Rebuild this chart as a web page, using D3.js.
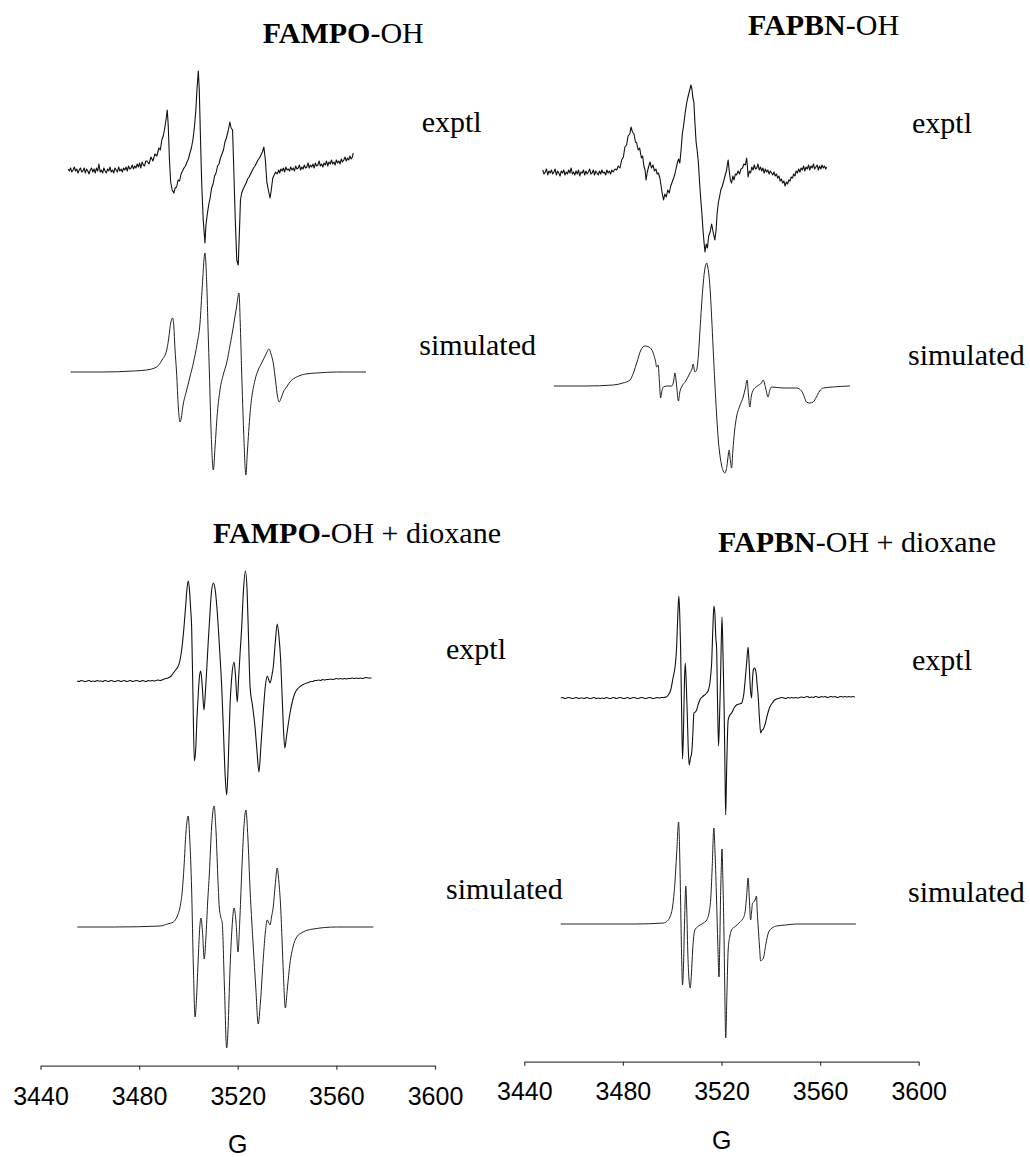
<!DOCTYPE html>
<html>
<head>
<meta charset="utf-8">
<script src="https://cdn.jsdelivr.net/npm/d3@7"></script>
<style>
  html, body { margin: 0; padding: 0; background: #fff; }
  svg { display: block; }
</style>
</head>
<body>
<svg id="chart" width="1030" height="1157"></svg>
<script>
// EPR spectra of the hydroxyl spin adducts: field in gauss, intensity in arbitrary units

const fieldTicks = [3440, 3480, 3520, 3560, 3600];

// FAMPO-OH, experimental
const fampoExptl = [
  [3451.2,1],[3451.7,-1],[3452.2,2],[3452.7,-2],[3453.2,0],[3453.7,3],[3454.2,-1],[3454.7,1],[3455.2,-3],[3455.7,0],
  [3456.2,2],[3456.7,-2],[3457.2,-1],[3457.7,2],[3458.2,-3],[3458.7,1],[3459.2,-1],[3459.7,-4],[3460.2,0],[3460.7,2],
  [3461.2,-2],[3461.7,1],[3462.2,-3],[3462.7,2],[3463.2,-1],[3463.7,6],[3464.2,-2],[3464.7,0],[3465.2,-3],[3465.7,2],
  [3466.2,-1],[3466.7,-3],[3467.2,1],[3467.7,-1],[3468.2,3],[3468.7,-2],[3469.2,0],[3469.7,-3],[3470.2,2],[3470.7,0],
  [3471.2,-2],[3471.7,3],[3472.2,-1],[3472.7,1],[3473.2,-2],[3473.7,2],[3474.2,0],[3474.7,3],[3475.2,-1],[3475.7,4],
  [3476.2,1],[3476.7,2],[3477.2,5],[3477.7,1],[3478.2,4],[3478.7,2],[3479.2,6],[3479.7,3],[3480.2,7],[3480.7,2],
  [3481.2,8],[3481.7,5],[3482.2,4],[3482.7,9],
  [3483.2,9],[3484.0,6],[3484.8,13],[3485.6,9],[3486.4,16],[3487.2,14],[3488.0,22],[3488.6,20],[3489.2,30],[3489.8,34],
  [3490.4,42],[3491.0,52],[3491.4,60],[3491.8,45],[3492.3,10],[3492.8,-12],[3493.4,-20],[3494.1,-23],[3494.6,-18],[3495.2,-17],
  [3495.8,-10],[3496.4,-11],[3497.0,-4],[3497.6,-1],[3498.2,2],[3498.8,4],[3499.4,8],[3500.0,11],[3500.6,17],[3501.2,22],
  [3501.8,30],[3502.4,42],[3503.0,60],[3503.5,82],[3504.0,99],[3504.4,80],[3504.9,30],[3505.4,-15],[3506.0,-50],[3506.7,-73],
  [3507.1,-55],[3507.6,-45],[3508.2,-35],[3508.8,-28],[3509.4,-18],[3510.0,-14],[3510.6,-6],[3511.2,-3],[3511.8,4],[3512.4,6],
  [3513.0,12],[3513.6,16],[3514.2,20],[3514.8,28],[3515.4,32],[3516.0,38],[3516.5,44],[3516.8,48],[3517.3,42],[3517.9,40],
  [3518.4,0],[3519.0,-50],[3519.6,-90],[3520.2,-95],[3520.7,-60],[3521.1,-30],[3521.6,-23],[3522.2,-19],[3522.8,-16],[3523.4,-13],
  [3524.0,-9],[3524.6,-7],[3525.2,-4],[3525.8,-1],[3526.4,2],[3527.0,4],[3527.6,7],[3528.2,10],[3528.8,12],[3529.4,15],
  [3530.0,18],[3530.6,23],[3531.2,10],[3531.8,-12],[3532.4,-20],[3533.1,-28],[3533.6,-20],[3534.2,-8],[3534.8,-5],[3535.4,-2],
  [3536.0,-4],[3536.6,0],
  [3537.0,-3],[3537.5,1],[3538.0,-1],[3538.5,2],[3539.0,-2],[3539.5,3],[3540.0,0],[3540.5,1],[3541.0,-1],[3541.5,3],
  [3542.0,0],[3542.5,2],[3543.0,-1],[3543.5,4],[3544.0,1],[3544.5,2],[3545.0,5],[3545.5,0],[3546.0,3],[3546.5,1],
  [3547.0,5],[3547.5,2],[3548.0,3],[3548.5,7],[3549.0,2],[3549.5,5],[3550.0,3],[3550.5,6],[3551.0,2],[3551.5,7],
  [3552.0,4],[3552.5,5],[3553.0,9],[3553.5,4],[3554.0,6],[3554.5,3],[3555.0,7],[3555.5,5],[3556.0,9],[3556.5,4],
  [3557.0,8],[3557.5,6],[3558.0,10],[3558.5,6],[3559.0,8],[3559.5,5],[3560.0,10],[3560.5,7],[3561.0,9],[3561.5,6],
  [3562.0,11],[3562.5,8],[3563.0,10],[3563.5,13],[3564.0,9],[3564.5,12],[3565.0,10],[3565.5,14],[3566.0,11],[3566.5,13],
  [3566.8,17]
];

// FAMPO-OH, simulated
const fampoSim = [
  [3452.2,0],[3465.0,0],[3477.6,1],[3483.0,2],[3487.1,5],[3489.3,12],[3491.2,22],[3491.9,32],[3492.8,49],[3493.6,54],
  [3494.1,45],[3494.5,25],[3495.2,-1],[3495.9,-35],[3496.6,-50],[3497.1,-46],[3497.7,-35],[3499.3,-18],[3500.6,-5],[3502.0,9],
  [3503.5,28],[3504.7,49],[3505.6,85],[3506.7,119],[3507.4,90],[3508.0,40],[3508.5,-1],[3509.2,-60],[3510.1,-98],[3510.8,-75],
  [3511.6,-45],[3512.8,-18],[3514.2,-2],[3515.5,9],[3516.9,27],[3518.2,45],[3519.5,65],[3520.5,79],[3521.0,50],[3521.6,-1],
  [3522.4,-60],[3523.3,-103],[3523.9,-80],[3525.0,-41],[3527.0,-8],[3528.3,2],[3529.7,9],[3531.3,17],[3532.7,23],[3533.5,18],
  [3534.4,9],[3535.4,-10],[3536.1,-24],[3536.8,-30],[3537.6,-26],[3538.5,-20],[3539.8,-15],[3541.5,-9],[3543.9,-5],[3547.5,-2],
  [3552.0,-1],[3560.0,0],[3572.0,0]
];

// FAPBN-OH, experimental
const fapbnExptl = [
  [3447.5,2],[3448.0,-2],[3448.5,0],[3449.0,3],[3449.5,-3],[3450.0,1],[3450.5,-1],[3451.0,2],[3451.5,-2],[3452.0,0],
  [3452.5,3],[3453.0,-3],[3453.5,1],[3454.0,-1],[3454.5,-4],[3455.0,1],[3455.5,-1],[3456.0,2],[3456.5,-3],[3457.0,0],
  [3457.5,-2],[3458.0,2],[3458.5,-1],[3459.0,4],[3459.5,-2],[3460.0,0],[3460.5,-3],[3461.0,1],[3461.5,-2],[3462.0,2],
  [3462.5,-4],[3463.0,0],[3463.5,-1],[3464.0,2],[3464.5,-3],[3465.0,1],[3465.5,-2],[3466.0,0],[3466.5,3],[3467.0,-2],
  [3467.5,-1],[3468.0,2],[3468.5,-3],[3469.0,1],[3469.5,-1],[3470.0,-3],[3470.5,1],[3471.0,-2],[3471.5,2],[3472.0,-1],
  [3472.5,0],[3473.0,-3],[3473.5,2],[3474.0,-1],[3474.5,1],[3475.0,-2],[3475.5,2],[3476.0,0],
  [3476.8,3],[3477.5,2],[3478.1,6],[3478.8,4],[3479.5,12],[3480.2,15],[3480.8,25],[3481.5,27],[3482.1,36],[3482.8,38],
  [3483.3,45],[3483.9,40],[3484.5,38],[3485.1,30],[3485.6,29],[3486.2,22],[3486.8,24],[3487.5,14],[3488.0,16],[3488.5,6],
  [3489.0,2],[3489.4,-8],[3489.9,0],[3490.4,5],[3491.0,10],[3491.6,4],[3492.2,7],[3492.8,1],[3493.4,3],[3493.9,-2],
  [3494.4,-1],[3495.0,-6],[3495.5,-14],[3496.0,-22],[3496.5,-28],[3497.0,-22],[3497.6,-25],[3498.2,-18],[3498.8,-21],[3499.4,-14],
  [3500.0,-10],[3500.6,-6],[3501.1,-2],[3501.7,5],[3502.2,10],[3502.6,13],[3503.1,9],[3503.6,22],[3504.1,38],[3504.6,46],
  [3505.2,58],[3505.8,68],[3506.3,74],[3506.9,80],[3507.3,84],[3507.6,87],[3508.0,83],[3508.4,74],[3508.8,70],[3509.2,50],
  [3509.7,30],[3510.2,20],[3510.6,10],[3511.1,-10],[3511.6,-28],[3512.0,-40],[3512.5,-58],[3512.9,-70],[3513.3,-80],[3513.8,-72],
  [3514.3,-76],[3514.8,-64],[3515.4,-60],[3516.0,-52],[3516.6,-60],[3517.3,-68],[3517.8,-58],[3518.2,-42],[3518.7,-31],[3519.2,-25],
  [3519.7,-18],[3520.2,-15],[3520.8,-10],[3521.4,-4],[3522.1,2],[3522.4,8],[3522.7,12],[3523.1,2],[3523.6,-8],[3524.1,-11],
  [3524.6,-4],[3525.1,-8],[3525.6,-2],[3526.1,-3],[3526.7,1],[3527.3,-2],[3527.9,3],[3528.5,4],[3529.1,8],[3529.7,7],
  [3530.2,14],[3530.5,6],[3530.8,-5],
  [3531.3,1],[3531.8,-1],[3532.3,5],[3532.8,2],[3533.3,7],[3533.8,3],[3534.3,4],[3534.8,8],[3535.3,2],[3535.8,5],
  [3536.3,1],[3536.8,4],[3537.3,-1],[3537.8,3],[3538.3,0],[3538.8,2],[3539.3,-2],[3539.8,1],[3540.3,-1],[3540.8,-3],
  [3541.3,0],[3541.8,-4],[3542.3,-2],[3542.8,-6],[3543.3,-4],[3543.8,-9],[3544.3,-7],[3544.8,-11],[3545.3,-9],[3545.8,-14],
  [3546.3,-10],[3546.8,-12],[3547.3,-8],[3547.8,-9],[3548.3,-5],[3548.8,-6],[3549.3,-2],[3549.8,-4],[3550.3,1],[3550.8,-1],
  [3551.3,3],[3551.8,0],[3552.3,4],[3552.8,2],[3553.3,6],[3553.8,1],[3554.3,5],[3554.8,3],[3555.3,7],[3555.8,2],
  [3556.3,6],[3556.8,4],[3557.3,8],[3557.8,3],[3558.3,5],[3558.8,7],[3559.3,2],[3559.8,6],[3560.3,3],[3560.8,7],
  [3561.3,4],[3561.8,6],[3562.3,3],[3562.6,5]
];

// FAPBN-OH, simulated
const fapbnSim = [
  [3452.0,0],[3465.0,0],[3476.1,1],[3480.0,3],[3482.9,6],[3484.4,14],[3485.6,23],[3487.3,36],[3488.9,40],[3490.6,39],
  [3492.3,33],[3493.2,25],[3493.7,19],[3494.3,21],[3494.8,5],[3495.3,-12],[3495.8,-5],[3496.4,-1],[3498.0,0],[3499.8,0],
  [3500.6,5],[3501.1,13],[3501.8,0],[3502.5,-15],[3503.1,-6],[3503.8,-1],[3505.5,5],[3507.2,13],[3508.0,17],[3508.5,22],
  [3509.2,14],[3509.9,16],[3510.6,30],[3511.2,53],[3511.9,80],[3512.6,103],[3513.3,118],[3514.0,123],[3514.5,118],[3514.9,111],
  [3515.5,92],[3516.0,69],[3516.6,38],[3517.3,3],[3518.0,-28],[3518.7,-54],[3519.3,-68],[3520.0,-79],[3520.7,-85],[3521.4,-87],
  [3522.2,-80],[3522.8,-68],[3523.1,-64],[3523.6,-75],[3524.1,-82],[3524.6,-65],[3525.3,-45],[3526.1,-31],[3527.4,-20],[3528.8,-11],
  [3529.7,-2],[3530.4,6],[3530.9,-8],[3531.5,-21],[3532.1,-10],[3532.9,-4],[3534.5,0],[3536.2,3],[3536.9,6],[3537.9,-2],
  [3538.9,-11],[3539.5,-5],[3540.3,-1],[3545.0,-2],[3550.5,-2],[3552.5,-5],[3553.6,-11],[3554.5,-16],[3555.8,-17],[3557.2,-16],
  [3558.5,-11],[3559.8,-5],[3561.3,-2],[3565.0,-1],[3572.1,0]
];

// FAMPO-OH + dioxane, experimental
const fampoDioxExptl = [
  [3454.9,0],[3455.7,-0.5],[3456.5,0.5],[3457.3,0],[3458.1,-0.5],[3458.9,0],[3459.7,0.5],[3460.5,-0.5],[3461.3,0],[3462.1,-0.5],
  [3462.9,0.5],[3463.7,0],[3464.5,0],[3465.3,-0.5],[3466.1,0.5],[3466.9,0],[3467.7,-0.5],[3468.5,0.5],[3469.3,0],[3470.1,-0.5],
  [3470.9,0],[3471.7,0.5],[3472.5,-0.5],[3473.3,0],[3474.1,0.5],[3474.9,-0.5],[3475.7,0],[3476.5,0.5],[3477.3,-0.5],[3478.1,0],
  [3478.9,0.5],[3479.7,0],[3480.5,-0.5],[3481.3,0.5],[3482.1,0],[3482.9,-0.5],[3483.7,0.5],[3484.5,0],[3485.3,0.5],[3486.1,0],
  [3486.9,0.5],[3487.7,1],[3488.5,0.5],[3489.3,1],[3490.1,2],
  [3491.7,3],[3493.0,5],[3493.9,8],[3494.8,11],[3495.7,14],[3496.6,21],[3497.4,34],
  [3498.2,54],[3498.9,76],[3499.4,92],[3499.9,100],[3500.4,92],[3500.9,72],[3501.3,54],[3501.8,-10],[3502.4,-80],[3502.9,-70],
  [3503.5,-35],[3504.0,-12],[3504.5,5],[3505.0,10],[3505.6,-5],[3506.3,-29],[3506.9,-10],[3507.5,15],[3508.0,38],[3508.6,62],
  [3509.3,88],[3510.1,98],[3510.8,92],[3511.5,75],[3512.1,54],[3512.8,25],[3513.5,-6],[3514.2,-50],[3514.9,-95],[3515.5,-114],
  [3516.1,-85],[3516.8,-29],[3517.6,5],[3518.5,19],[3519.1,5],[3519.8,-21],[3520.4,5],[3521.0,30],[3521.6,54],[3522.3,90],
  [3523.1,110],[3523.8,90],[3524.4,40],[3525.0,-6],[3526.0,-25],[3527.0,-46],[3527.8,-70],[3528.6,-91],[3529.4,-65],[3530.4,-29],
  [3531.2,-5],[3532.0,5],[3532.6,1],[3533.1,-2],[3533.8,5],[3534.4,14],[3535.2,38],[3536.0,57],[3536.7,45],[3537.4,21],
  [3538.0,-15],[3538.5,-46],[3539.1,-67],[3539.8,-55],[3541.2,-32],[3542.2,-20],[3543.2,-12],[3544.6,-7],[3546.2,-4],
  [3548.0,-2],[3548.8,-1.5],[3549.6,-0.5],[3550.4,-0.5],[3551.2,0.5],[3552.0,0.5],[3552.8,1],[3553.6,0.5],[3554.4,1.5],[3555.2,1],
  [3556.1,1.5],[3556.9,1.5],[3557.7,2],[3558.5,1.5],[3559.3,2],[3560.1,2.5],[3560.9,2],[3561.7,2.5],[3562.5,2],[3563.3,2.5],
  [3564.1,2],[3564.9,2.5],[3565.7,2.5],[3566.5,3],[3567.3,2.5],[3568.1,3],[3568.9,2.5],[3569.7,3],[3570.5,2.5],[3571.3,3],
  [3572.1,3.5],[3572.9,3],[3573.7,3],[3574.3,3]
];

// FAMPO-OH + dioxane, simulated
const fampoDioxSim = [
  [3454.9,0],[3470.0,0],[3488.5,1],[3491.5,3],[3493.9,5],[3495.5,11],[3496.6,20],[3497.5,36],[3498.2,60],[3499.0,95],
  [3499.9,111],[3500.5,90],[3501.3,37],[3502.0,-40],[3502.7,-90],[3503.3,-70],[3504.0,-30],[3504.6,0],[3505.1,9],[3505.7,-5],
  [3506.4,-32],[3507.1,-10],[3507.8,25],[3508.5,54],[3509.4,100],[3510.4,121],[3511.2,95],[3512.0,45],[3512.5,20],[3513.1,10],
  [3513.7,4],[3514.6,-60],[3515.5,-121],[3516.1,-100],[3516.8,-46],[3517.7,0],[3518.5,19],[3519.3,5],[3520.1,-25],[3520.8,5],
  [3521.6,54],[3522.5,100],[3523.3,117],[3524.1,90],[3525.0,37],[3525.7,5],[3526.3,-20],[3527.3,-60],[3528.3,-97],[3529.2,-75],
  [3530.4,-30],[3531.2,-5],[3532.0,7],[3532.6,4],[3533.1,2],[3533.7,10],[3534.4,20],[3535.2,42],[3536.0,59],[3536.7,45],
  [3537.4,20],[3538.0,-15],[3538.5,-46],[3539.3,-81],[3540.1,-62],[3541.2,-36],[3542.4,-20],[3543.9,-10],[3546.5,-5],[3550.6,-2],
  [3560.0,0],[3575.0,0]
];

// FAPBN-OH + dioxane, experimental
const fapbnDioxExptl = [
  [3454.8,0],[3455.6,0.5],[3456.4,-0.5],[3457.2,0],[3458.0,0.5],[3458.8,0],[3459.6,-0.5],[3460.4,0],[3461.2,0.5],[3462.0,-0.5],
  [3462.8,0],[3463.6,0],[3464.4,-0.5],[3465.2,0.5],[3466.0,0],[3466.8,-0.5],[3467.6,0],[3468.4,0.5],[3469.2,-0.5],[3470.0,0],
  [3470.8,-0.5],[3471.6,0],[3472.4,-0.5],[3473.2,0.5],[3474.0,0],[3474.8,-0.5],[3475.6,0],[3476.4,0.5],[3477.2,-0.5],[3478.0,0],
  [3478.8,0.5],[3479.6,0],[3480.4,-0.5],[3481.2,0],[3482.0,0.5],[3482.8,-0.5],[3483.6,0],[3484.4,0.5],[3485.2,0],[3486.0,-0.5],
  [3486.8,0],[3487.6,0.5],[3488.4,0],[3489.2,-0.5],[3490.0,0],[3490.8,0.5],[3491.6,0],[3492.4,-0.5],[3493.2,0],[3494.0,0.5],
  [3494.8,0],[3495.6,0.5],[3496.4,0.5],
  [3497.5,1],[3498.4,3],[3499.4,8],
  [3500.4,21],[3501.2,32],[3501.8,51],[3502.3,85],[3502.7,102],[3503.1,80],[3503.4,51],[3503.8,-10],[3504.2,-61],[3504.6,-30],
  [3505.0,20],[3505.3,35],[3505.7,15],[3506.1,-15],[3506.5,-50],[3506.9,-67],[3507.4,-60],[3507.9,-55],[3508.4,-35],[3508.8,-15],
  [3509.4,-14],[3509.9,-12],[3510.6,-6],[3511.2,-2],[3512.6,2],[3514.0,5],[3514.7,8],[3515.3,15],[3515.7,25],[3516.0,35],
  [3516.5,70],[3516.9,92],[3517.3,85],[3517.7,60],[3518.0,51],[3518.4,-5],[3518.8,-48],[3519.2,-20],[3519.6,18],[3519.9,55],
  [3520.2,81],[3520.6,45],[3521.1,-15],[3521.4,-70],[3521.7,-117],[3522.1,-70],[3522.7,-22],[3523.4,-17],[3524.1,-15],[3525.1,-10],
  [3526.1,-7],[3527.2,-6],[3528.2,-5],[3528.7,-1],[3529.1,5],[3529.6,18],[3530.2,35],[3530.8,51],[3531.2,35],[3531.7,10],
  [3532.2,0],[3532.5,15],[3532.9,28],[3533.4,30],[3534.0,26],[3534.4,15],[3534.9,1],[3535.4,-20],[3535.9,-35],[3536.5,-32],
  [3537.0,-31],[3537.6,-27],[3538.6,-17],[3539.6,-9],[3540.6,-5],[3541.6,-2],
  [3543.7,0],[3544.5,0.5],[3545.3,0],[3546.1,-0.5],[3546.9,0.5],[3547.7,0],[3548.5,0.5],[3549.3,0],[3550.1,0.5],[3550.9,0],
  [3551.7,0.5],[3552.5,1],[3553.3,0.5],[3554.1,1],[3554.9,1.5],[3555.7,0.5],[3556.5,1],[3557.3,0.5],[3558.1,1.5],[3558.9,1],
  [3559.7,0.5],[3560.5,1.5],[3561.3,1],[3562.1,1.5],[3562.9,0.5],[3563.7,1],[3564.5,1.5],[3565.3,1],[3566.1,1.5],[3566.9,0.5],
  [3567.7,1],[3568.5,1.5],[3569.3,1],[3570.1,1.5],[3570.9,1],[3571.7,1.5],[3572.5,1],[3573.3,1.5],[3574.1,1]
];

// FAPBN-OH + dioxane, simulated
const fapbnDioxSim = [
  [3454.8,0],[3470.0,0],[3485.0,0],[3496.4,1],[3498.0,3],[3499.1,7],[3500.2,18],[3501.1,41],[3501.8,70],[3502.6,102],
  [3503.0,75],[3503.4,24],[3503.8,-30],[3504.2,-61],[3504.6,-40],[3504.9,-9],[3505.2,20],[3505.5,38],[3505.9,15],[3506.3,-26],
  [3506.8,-55],[3507.3,-64],[3507.8,-50],[3508.3,-26],[3509.2,-6],[3510.2,-3],[3511.3,-1],[3512.7,1],[3514.0,4],[3515.0,12],
  [3515.6,24],[3516.2,55],[3516.9,96],[3517.4,70],[3518.0,24],[3518.5,-20],[3519.0,-53],[3519.3,-20],[3519.6,24],[3519.9,55],
  [3520.2,75],[3520.6,40],[3521.0,-9],[3521.3,-60],[3521.7,-114],[3522.2,-70],[3522.7,-26],[3523.4,-12],[3524.1,-6],[3525.8,-2],
  [3527.5,2],[3528.6,5],[3529.5,11],[3530.2,28],[3530.8,46],[3531.3,25],[3531.8,4],[3532.2,12],[3532.6,21],[3533.1,22],
  [3533.6,24],[3534.2,28],[3534.5,12],[3534.9,-3],[3535.4,-22],[3535.9,-37],[3536.4,-36],[3537.0,-34],[3538.0,-20],[3539.0,-9],
  [3540.5,-4],[3542.4,-2],[3546.0,-1],[3550.5,0],[3574.5,0]
];

// ---- layout ----
const svg = d3.select("#chart");
svg.append("rect").attr("width", 1030).attr("height", 1157).attr("fill", "#fff");

const columns = [
  { range: [40.5, 435.0], axisY: 1065.7, padding: 17.6, gLabel: { x: 237.7, y: 1153 } },
  { range: [524.3, 918.7], axisY: 1061.7, padding: 16.6, gLabel: { x: 721.7, y: 1149 } }
];
const xScales = columns.map(c => d3.scaleLinear().domain([3440, 3600]).range(c.range));

const traces = [
  { data: fampoExptl,     col: 0, base: 170, curve: d3.curveLinear,     stroke: "#111", width: 1.1 },
  { data: fampoSim,       col: 0, base: 372, curve: d3.curveMonotoneX,  stroke: "#222", width: 1.0 },
  { data: fapbnExptl,     col: 1, base: 172, curve: d3.curveLinear,     stroke: "#111", width: 1.1 },
  { data: fapbnSim,       col: 1, base: 386, curve: d3.curveMonotoneX,  stroke: "#222", width: 1.0 },
  { data: fampoDioxExptl, col: 0, base: 681, curve: d3.curveMonotoneX,  stroke: "#111", width: 1.1 },
  { data: fampoDioxSim,   col: 0, base: 927, curve: d3.curveMonotoneX,  stroke: "#222", width: 1.0 },
  { data: fapbnDioxExptl, col: 1, base: 698, curve: d3.curveMonotoneX,  stroke: "#111", width: 1.1 },
  { data: fapbnDioxSim,   col: 1, base: 924, curve: d3.curveMonotoneX,  stroke: "#222", width: 1.0 }
];

traces.forEach(t => {
  const x = xScales[t.col];
  const y = d3.scaleLinear().domain([-150, 150]).range([t.base + 150, t.base - 150]);
  const line = d3.line().x(d => x(d[0])).y(d => y(d[1])).curve(t.curve);
  svg.append("path")
    .datum(t.data)
    .attr("d", line)
    .attr("fill", "none")
    .attr("stroke", t.stroke)
    .attr("stroke-width", t.width)
    .attr("stroke-linejoin", "round");
});

// field axes
columns.forEach((c, i) => {
  const g = svg.append("g")
    .attr("transform", `translate(0,${c.axisY})`)
    .call(d3.axisBottom(xScales[i]).tickValues(fieldTicks).tickFormat(d3.format("d"))
      .tickSize(4).tickSizeOuter(0).tickPadding(c.padding));
  g.select(".domain").attr("stroke", "#444").attr("stroke-width", 1.3);
  g.selectAll(".tick line").attr("stroke", "#444").attr("stroke-width", 1.3);
  g.selectAll(".tick text")
    .attr("fill", "#000")
    .style("font-family", "'Liberation Sans', Arial, sans-serif")
    .style("font-size", "25px");
  svg.append("text")
    .attr("x", c.gLabel.x).attr("y", c.gLabel.y)
    .attr("text-anchor", "middle")
    .style("font-family", "'Liberation Sans', Arial, sans-serif")
    .style("font-size", "25px")
    .text("G");
});

// panel titles
const titles = [
  { bold: "FAMPO", rest: "-OH",            x: 262.7, y: 43.3 },
  { bold: "FAPBN", rest: "-OH",            x: 748,   y: 35 },
  { bold: "FAMPO", rest: "-OH + dioxane",  x: 213,   y: 543 },
  { bold: "FAPBN", rest: "-OH + dioxane",  x: 718,   y: 552 }
];
titles.forEach(t => {
  const tx = svg.append("text")
    .attr("x", t.x).attr("y", t.y)
    .style("font-family", "'Liberation Serif', 'Times New Roman', serif")
    .style("font-size", "30px");
  tx.append("tspan").attr("font-weight", "bold").text(t.bold);
  tx.append("tspan").text(t.rest);
});

// trace labels
const labels = [
  { text: "exptl",     x: 421.7, y: 131.7 },
  { text: "simulated", x: 419.3, y: 355 },
  { text: "exptl",     x: 912,   y: 133 },
  { text: "simulated", x: 908,   y: 365 },
  { text: "exptl",     x: 446,   y: 659 },
  { text: "simulated", x: 446,   y: 899 },
  { text: "exptl",     x: 912,   y: 670 },
  { text: "simulated", x: 908,   y: 902 }
];
labels.forEach(l => {
  svg.append("text")
    .attr("x", l.x).attr("y", l.y)
    .style("font-family", "'Liberation Serif', 'Times New Roman', serif")
    .style("font-size", "30px")
    .text(l.text);
});
</script>
</body>
</html>
